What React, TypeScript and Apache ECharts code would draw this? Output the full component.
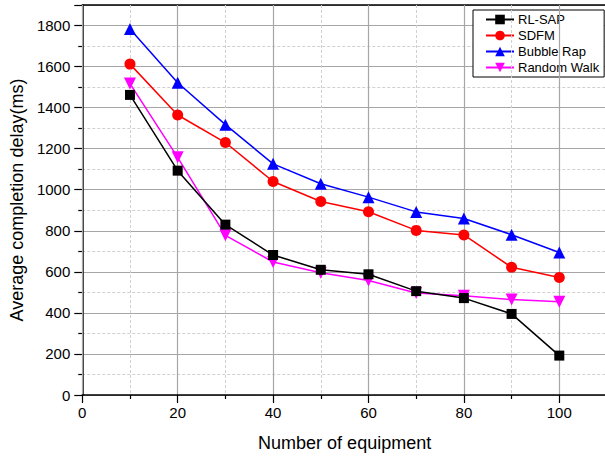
import React, { useEffect, useRef } from "react";
import * as echarts from "echarts";

const xValues = [10, 20, 30, 40, 50, 60, 70, 80, 90, 100];
const rlSap = [1462, 1093, 830, 682, 610, 588, 506, 472, 395, 192];
const sdfm = [1612, 1364, 1230, 1040, 943, 893, 802, 780, 622, 572];
const bubbleRap = [1783, 1521, 1317, 1126, 1029, 964, 892, 860, 781, 694];
const randomWalk = [1517, 1158, 778, 648, 596, 558, 497, 484, 465, 454];

const seriesNames = ["RL-SAP", "SDFM", "Bubble Rap", "Random Walk"];
const seriesColors = ["#000000", "#ff0000", "#0000ff", "#ff00ff"];
const seriesSymbols = ["rect", "circle", "triangle", "path://M0,0 L10,0 L5,10 Z"];
const seriesSizes = [10, 11, 12, 12];
const seriesData = [rlSap, sdfm, bubbleRap, randomWalk];

export default function App() {
  const ref = useRef<HTMLDivElement>(null);
  useEffect(() => {
    document.body.style.margin = "0";
    const chart = echarts.init(ref.current!, null, { renderer: "svg" });
    const font = "Liberation Sans, Arial, sans-serif";
    chart.setOption({
      animation: false,
      backgroundColor: "#ffffff",
      textStyle: { fontFamily: font },
      grid: {
        left: 81,
        top: 5,
        width: 526,
        height: 391,
        show: false,
        containLabel: false,
      },
      legend: {
        orient: "vertical",
        left: 473,
        top: 10,
        itemWidth: 28,
        itemHeight: 12,
        itemGap: 3,
        padding: [3, 5, 3, 12],
        borderColor: "#000",
        borderWidth: 1,
        backgroundColor: "#fff",
        textStyle: { fontFamily: font, fontSize: 13, color: "#000", padding: [0, 0, 0, -1] },
        data: seriesNames,
      },
      xAxis: [
        {
          type: "value",
          min: 0,
          max: 110,
          interval: 20,
          name: "Number of equipment",
          nameLocation: "middle",
          nameGap: 39,
          nameTextStyle: { fontFamily: font, fontSize: 18, color: "#000" },
          axisLine: { show: true, onZero: false, lineStyle: { color: "#000", width: 1.5 } },
          axisTick: { show: true, inside: false, length: 8, lineStyle: { color: "#000", width: 1.2 } },
          minorTick: { show: true, splitNumber: 2, length: 4, lineStyle: { color: "#000", width: 1.2 } },
          axisLabel: { fontFamily: font, fontSize: 15, color: "#000", margin: 10, showMaxLabel: false },
          splitLine: { show: true, lineStyle: { color: "#a6a6a6", width: 1.2 } },
          minorSplitLine: { show: true, lineStyle: { color: "#d0d0d0", width: 1, type: [3, 2] } },
          z: 5,
        },
        {
          type: "value",
          position: "top",
          min: 0,
          max: 110,
          interval: 20,
          axisLine: { show: true, onZero: false, lineStyle: { color: "#000", width: 1.5 } },
          axisTick: { show: false },
          axisLabel: { show: false },
          splitLine: { show: false },
        },
      ],
      yAxis: {
        type: "value",
        min: 0,
        max: 1900,
        interval: 200,
        name: "Average completion delay(ms)",
        nameLocation: "middle",
        nameGap: 52,
        nameTextStyle: { fontFamily: font, fontSize: 18, color: "#000" },
        axisLine: { show: true, lineStyle: { color: "#000", width: 1.5 } },
        axisTick: { show: true, inside: false, length: 8, lineStyle: { color: "#000", width: 1.2 } },
        minorTick: { show: true, splitNumber: 2, length: 4, lineStyle: { color: "#000", width: 1.2 } },
        axisLabel: {
          fontFamily: font,
          fontSize: 15,
          color: "#000",
          margin: 12,
          showMaxLabel: false,
          formatter: (v: number) => String(v),
        },
        splitLine: { show: true, lineStyle: { color: "#a6a6a6", width: 1.2 } },
        minorSplitLine: { show: true, lineStyle: { color: "#d0d0d0", width: 1, type: [3, 2] } },
      },
      series: seriesNames.map((name, i) => ({
        name,
        type: "line",
        data: xValues.map((x, j) => [x, seriesData[i][j]]),
        symbol: seriesSymbols[i],
        symbolSize: seriesSizes[i],
        showAllSymbol: true,
        lineStyle: { color: seriesColors[i], width: 1.5 },
        itemStyle: { color: seriesColors[i], borderWidth: 0 },
        z: 10 - i,
      })),
    });
    return () => chart.dispose();
  }, []);
  return (
    <div style={{ width: 605, height: 457, overflow: "hidden", position: "relative" }}>
      <div ref={ref} style={{ width: 612, height: 457 }} />
    </div>
  );
}
